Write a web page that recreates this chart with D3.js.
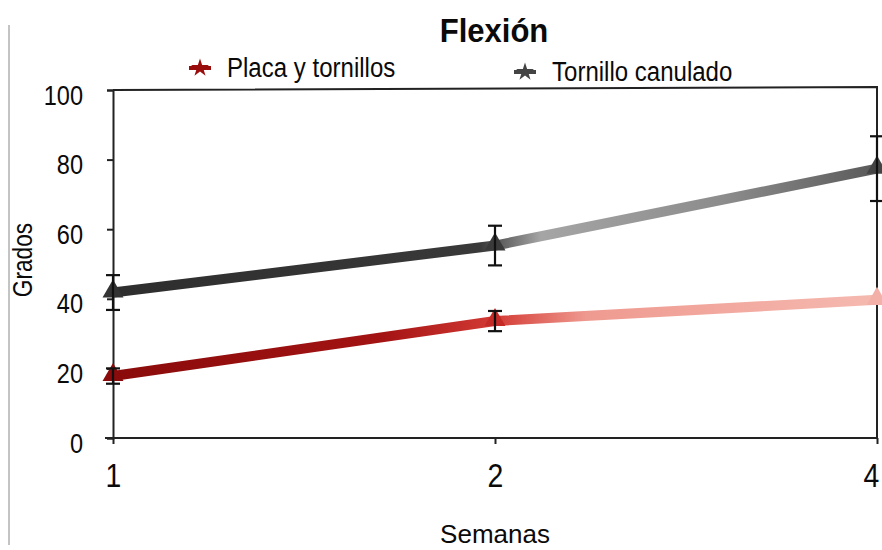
<!DOCTYPE html>
<html>
<head>
<meta charset="utf-8">
<script src="https://cdn.jsdelivr.net/npm/d3@7"></script>
<style>
  body { margin: 0; background: #fff; }
  text { font-family: "Liberation Sans", Arial, sans-serif; fill: #0a0a0a; }
</style>
</head>
<body>
<div id="chart"></div>
<script>
// data
var semanas = ["1", "2", "4"];
var seriesNames = ["Placa y tornillos", "Tornillo canulado"];
var placaVals = [17.8, 33.6, 39.7];
var placaErr = [2.2, 2.9, 0];
var canuladoVals = [41.8, 55.3, 77.4];
var canuladoErr = [5, 5.7, 9.3];
var yTicks = [0, 20, 40, 60, 80, 100];

var W = 882, H = 550;
var svg = d3.select("#chart").append("svg").attr("width", W).attr("height", H);

var x = d3.scalePoint().domain(semanas).range([113, 877]);
var y = d3.scaleLinear().domain([0, 100]).range([438, 90]);

// the printed font is a bit condensed
function squeeze(sel, k) {
    sel.each(function () {
        var w = this.getComputedTextLength();
        d3.select(this).attr("textLength", w * k).attr("lengthAdjust", "spacingAndGlyphs");
    });
}

// page edge line at the left of the scan
svg.append("line").attr("x1", 9).attr("x2", 9).attr("y1", 25).attr("y2", 545)
    .attr("stroke", "#888").attr("stroke-width", 1);

// gradients to imitate the faded print
var defs = svg.append("defs");
function grad(id, stops) {
    var g = defs.append("linearGradient").attr("id", id)
        .attr("gradientUnits", "userSpaceOnUse")
        .attr("x1", x("1")).attr("x2", x("4")).attr("y1", 0).attr("y2", 0);
    stops.forEach(s => g.append("stop").attr("offset", s[0]).attr("stop-color", s[1]));
}
grad("gRed", [[0, "#8a0b0b"], [0.35, "#a31313"], [0.5, "#d33a34"], [0.62, "#ef9a90"], [1, "#f5b9b0"]]);
grad("gGray", [[0, "#2e2e2e"], [0.48, "#393939"], [0.56, "#a5a5a5"], [0.8, "#8c8c8c"], [1, "#5a5a5a"]]);

// frame
var g = svg.append("g");
g.append("path")
    .attr("d", "M" + x("1") + "," + y(100) + "L" + x("4") + "," + (y(100) - 3) + "L" + x("4") + "," + y(0))
    .attr("fill", "none").attr("stroke", "#222").attr("stroke-width", 2);

// y axis
var yAxis = g.append("g").attr("transform", "translate(" + x("1") + ",0)")
    .call(d3.axisLeft(y).tickValues(yTicks).tickSize(6).tickPadding(24));
yAxis.select(".domain").attr("stroke", "#222").attr("stroke-width", 2);
yAxis.selectAll(".tick line").attr("stroke", "#222").attr("stroke-width", 2);
yAxis.selectAll("text").style("font-size", "28px").attr("fill", "#0a0a0a").attr("dy", "0.5em")
    .call(squeeze, 0.84);

// x axis
var xAxis = g.append("g").attr("transform", "translate(0," + y(0) + ")")
    .call(d3.axisBottom(x).tickSize(6).tickPadding(20).tickSizeOuter(0));
xAxis.select(".domain").attr("stroke", "#222").attr("stroke-width", 2)
    .attr("d", "M105,0H" + x("4"));
xAxis.selectAll(".tick line").attr("stroke", "#222").attr("stroke-width", 2);
xAxis.selectAll("text").style("font-size", "33px").attr("fill", "#0a0a0a")
    .attr("dx", (d, i) => i == semanas.length - 1 ? -6 : 0)
    .call(squeeze, 0.86);

// series
var series = [
    { name: seriesNames[0], vals: placaVals, err: placaErr, stroke: "url(#gRed)", mark: ["#8a0b0b", "#c42a26", "#f2b0a8"] },
    { name: seriesNames[1], vals: canuladoVals, err: canuladoErr, stroke: "url(#gGray)", mark: ["#333", "#3a3a3a", "#444"] }
];

var line = d3.line().x((d, i) => x(semanas[i])).y(d => y(d));
var tri = d3.symbol().type(d3.symbolTriangle).size(190);

series.forEach(s => {
    g.append("path").datum(s.vals).attr("d", line)
        .attr("fill", "none").attr("stroke", s.stroke).attr("stroke-width", 10);
    s.vals.forEach((v, i) => {
        g.append("path").attr("d", tri)
            .attr("transform", "translate(" + x(semanas[i]) + "," + (y(v) - 1) + ")")
            .attr("fill", s.mark[i]);
        if (s.err[i] > 0) {
            var cx = x(semanas[i]);
            var eb = g.append("g").attr("stroke", "#111").attr("stroke-width", 2.2);
            eb.append("line").attr("x1", cx).attr("x2", cx).attr("y1", y(v + s.err[i])).attr("y2", y(v - s.err[i]));
            eb.append("line").attr("x1", cx - 7).attr("x2", cx + 7).attr("y1", y(v + s.err[i])).attr("y2", y(v + s.err[i]));
            eb.append("line").attr("x1", cx - 7).attr("x2", cx + 7).attr("y1", y(v - s.err[i])).attr("y2", y(v - s.err[i]));
        }
    });
});

// title
svg.append("text").attr("x", 494).attr("y", 42).attr("text-anchor", "middle")
    .style("font-size", "33px").style("font-weight", "bold").text("Flexión")
    .call(squeeze, 0.94);

// legend
var legend = [
    { name: seriesNames[0], color: "#9a0d0d", x: 200, y: 77 },
    { name: seriesNames[1], color: "#444", x: 525, y: 81 }
];
legend.forEach(l => {
    var lg = svg.append("g").attr("transform", "translate(" + l.x + "," + (l.y - 9) + ")");
    lg.append("line").attr("x1", -11).attr("x2", 11).attr("stroke", l.color).attr("stroke-width", 4);
    lg.append("path").attr("d", d3.symbol().type(d3.symbolStar).size(100)).attr("fill", l.color);
    svg.append("text").attr("x", l.x + 27).attr("y", l.y).style("font-size", "27px").text(l.name)
        .call(squeeze, 0.89);
});

// axis titles
svg.append("text").attr("x", 495).attr("y", 543).attr("text-anchor", "middle")
    .style("font-size", "26px").text("Semanas");
svg.append("text").attr("transform", "translate(32,260) rotate(-90)").attr("text-anchor", "middle")
    .style("font-size", "27px").text("Grados")
    .call(squeeze, 0.84);
</script>
</body>
</html>
